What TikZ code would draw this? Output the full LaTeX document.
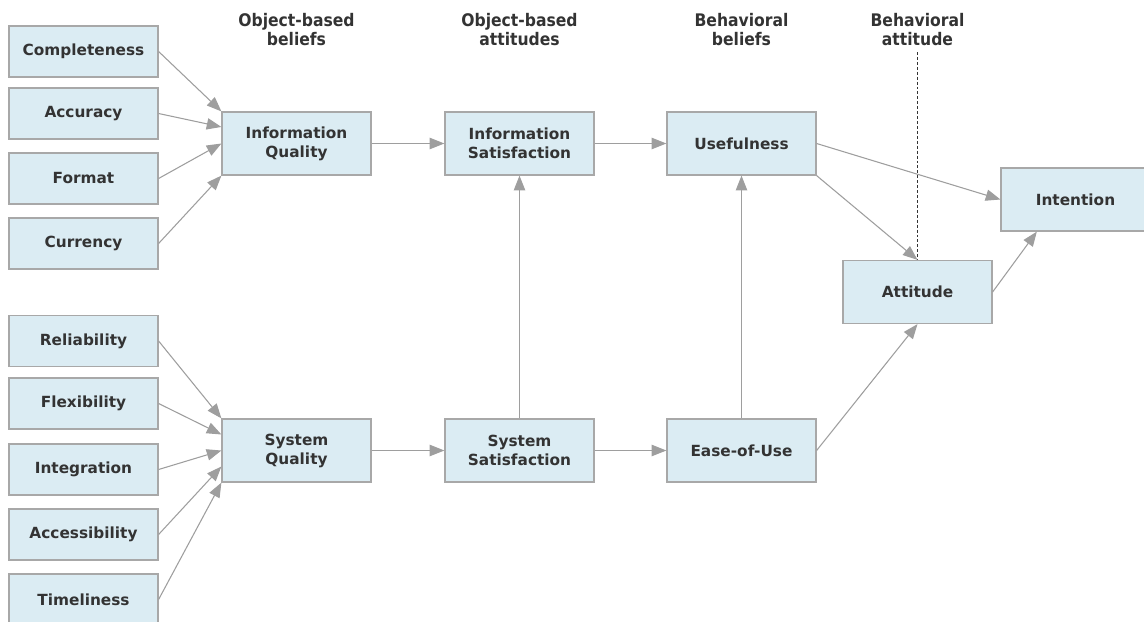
\documentclass[tikz,border=0pt]{standalone}
\usepackage{fontspec}
\setmainfont{DejaVu Sans}
\newfontfamily\headfont{DejaVu Sans Condensed}
\usetikzlibrary{arrows.meta}
\definecolor{BoxFill}{HTML}{DBECF3}
\definecolor{BoxLine}{HTML}{A8A8A8}
\definecolor{ArrowGray}{HTML}{9E9E9E}
\definecolor{TextGray}{HTML}{333333}

\begin{document}
\begin{tikzpicture}[x=0.75pt,y=-0.75pt,>={Triangle[length=11pt,width=8.5pt]},
		box/.style={draw=BoxLine, fill=BoxFill, line width=0.9pt, align=center,
			minimum width=111.75pt, minimum height=38.25pt, inner sep=0pt,
			text=TextGray, font=\fontsize{11.5}{14.25}\selectfont\bfseries},
		bigbox/.style={box, minimum height=47.25pt},
		head/.style={align=center, text=TextGray,
			font=\headfont\fontsize{13}{14.25}\selectfont\bfseries},
		arrow/.style={->, ArrowGray, line width=0.8pt}]
		\useasboundingbox (0,0) rectangle (1144,621);
		% column headers
		\node[head] (h1) at (296.5,30) {Object-based\\beliefs};
		\node[head] (h2) at (519.5,30) {Object-based\\attitudes};
		\node[head] (h3) at (741.5,30) {Behavioral\\beliefs};
		\node[head] (h4) at (917.5,30) {Behavioral\\attitude};
		% information side
		\node[box] (completeness) at (83.5,51.5) {Completeness};
		\node[box] (accuracy) at (83.5,113.5) {Accuracy};
		\node[box] (format) at (83.5,178.5) {Format};
		\node[box] (currency) at (83.5,243.5) {Currency};
		% system side
		\node[box] (reliability) at (83.5,341) {Reliability};
		\node[box] (flexibility) at (83.5,403.5) {Flexibility};
		\node[box] (integration) at (83.5,469.5) {Integration};
		\node[box] (accessibility) at (83.5,534.5) {Accessibility};
		\node[box] (timeliness) at (83.5,599.5) {Timeliness};
		% main chain
		\node[bigbox] (infoq) at (296.5,143.5) {Information\\Quality};
		\node[bigbox] (sysq) at (296.5,450.5) {System\\Quality};
		\node[bigbox] (infosat) at (519.5,143.5) {Information\\Satisfaction};
		\node[bigbox] (syssat) at (519.5,450.5) {System\\Satisfaction};
		\node[bigbox] (useful) at (741.5,143.5) {Usefulness};
		\node[bigbox] (ease) at (741.5,450.5) {Ease-of-Use};
		\node[bigbox] (attitude) at (917.5,292) {Attitude};
		\node[bigbox] (intention) at (1075.5,199.5) {Intention};
		\coordinate (dashtop) at (917.5,52);
		\draw[TextGray, dashed, dash pattern=on 2.2pt off 1.5pt, line width=0.5pt] (dashtop) -- (attitude.north);
		% arrows
		\draw[arrow] (completeness.east) -- (infoq.north west);
		\draw[arrow] (accuracy.east) -- ([yshift=12.4pt]infoq.west);
		\draw[arrow] (format.east) -- (infoq.west);
		\draw[arrow] (currency.east) -- (infoq.south west);
		\draw[arrow] (reliability.east) -- (sysq.north west);
		\draw[arrow] (flexibility.east) -- ([yshift=12pt]sysq.west);
		\draw[arrow] (integration.east) -- (sysq.west);
		\draw[arrow] (accessibility.east) -- ([yshift=-12pt]sysq.west);
		\draw[arrow] (timeliness.east) -- (sysq.south west);
		\draw[arrow] (infoq) -- (infosat);
		\draw[arrow] (infosat) -- (useful);
		\draw[arrow] (sysq) -- (syssat);
		\draw[arrow] (syssat) -- (ease);
		\draw[arrow] (syssat) -- (infosat);
		\draw[arrow] (ease) -- (useful);
		\draw[arrow] (useful.east) -- (intention.west);
		\draw[arrow] (useful.south east) -- (attitude.north);
		\draw[arrow] (ease.east) -- (attitude.south);
		\draw[arrow] (attitude.east) -- ([xshift=-29pt]intention.south);
	\end{tikzpicture}
\end{document}
